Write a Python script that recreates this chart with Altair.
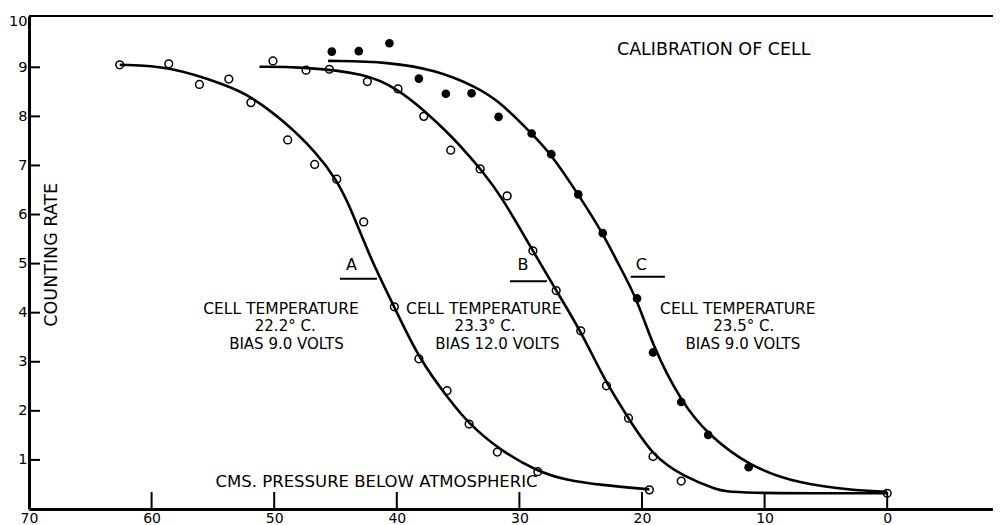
import altair as alt
import pandas as pd

FONT = "DejaVu Sans"

# ---- measured data (x = cms pressure below atmospheric, y = counting rate)
a_pts_x = [62.6, 58.6, 56.1, 53.7, 51.9, 48.9, 46.7, 44.9, 42.7, 40.2, 38.2, 35.9, 34.1, 31.8, 28.5, 19.4]
a_pts_y = [9.05, 9.07, 8.65, 8.76, 8.28, 7.52, 7.02, 6.72, 5.85, 4.12, 3.06, 2.41, 1.73, 1.16, 0.76, 0.39]

b_pts_x = [50.1, 47.4, 45.5, 42.4, 39.9, 37.8, 35.6, 33.2, 31.0, 28.9, 27.0, 25.0, 22.9, 21.1, 19.1, 16.8, 0.0]
b_pts_y = [9.13, 8.94, 8.96, 8.71, 8.56, 8.00, 7.31, 6.93, 6.38, 5.26, 4.45, 3.63, 2.51, 1.85, 1.07, 0.57, 0.32]

c_pts_x = [45.3, 43.1, 40.6, 38.2, 36.0, 33.9, 31.7, 29.0, 27.4, 25.2, 23.2, 20.4, 19.1, 16.8, 14.6, 11.3]
c_pts_y = [9.32, 9.33, 9.49, 8.77, 8.46, 8.47, 7.99, 7.65, 7.23, 6.41, 5.62, 4.29, 3.19, 2.18, 1.51, 0.85]

# ---- fitted curves
a_cur_x = [62.6, 58.6, 53.7, 52.0, 49.3, 46.5, 44.9, 43.8, 42.1, 40.2, 38.2, 35.7, 34.1, 31.6, 28.5, 26.2, 23.4, 19.4]
a_cur_y = [9.05, 9.03, 8.62, 8.42, 7.93, 7.25, 6.70, 6.16, 5.07, 4.12, 3.06, 2.22, 1.73, 1.20, 0.76, 0.59, 0.49, 0.40]

b_cur_x = [51.2, 47.9, 42.5, 39.9, 37.8, 35.5, 33.8, 33.2, 31.6, 28.9, 27.0, 25.0, 22.9, 21.1, 19.1, 16.6, 13.9, 12.6, 0.0]
b_cur_y = [9.01, 9.01, 8.88, 8.55, 8.13, 7.59, 7.11, 6.93, 6.43, 5.26, 4.45, 3.63, 2.55, 1.85, 1.07, 0.66, 0.39, 0.32, 0.32]

c_cur_x = [45.6, 40.6, 36.8, 33.5, 31.6, 29.0, 27.4, 25.2, 23.2, 22.1, 20.4, 19.1, 16.8, 14.6, 11.2, 7.1, 3.0, 0.0]
c_cur_y = [9.13, 9.11, 8.94, 8.60, 8.30, 7.65, 7.23, 6.41, 5.62, 5.07, 4.29, 3.30, 2.18, 1.51, 0.86, 0.51, 0.39, 0.35]

x_label_vals = [70, 60, 50, 40, 30, 20, 10, 0]
x_tick_vals = [60, 50, 40, 30, 20, 10, 0]
y_label_vals = [1, 2, 3, 4, 5, 6, 7, 8, 9, 10]
y_tick_vals = [1, 2, 3, 4, 5, 6, 7, 8, 9]

W, H = 964, 493
x_scale = alt.Scale(domain=[-8.63, 70], reverse=True, nice=False, zero=False)
y_scale = alt.Scale(domain=[0, 10.045], nice=False, zero=False)

# the top label "10" sits a little below the frame line, as in the drawing
y_label_pos = [v if v < 10 else 9.94 for v in y_label_vals]

x_axis = alt.Axis(values=x_label_vals, ticks=False, domainWidth=3, domainColor="black",
                  labelFont=FONT, labelFontSize=14, labelColor="black", labelPadding=2,
                  grid=False, format="d", labelFlush=False, labelOverlap=False, title=None)
y_axis = alt.Axis(values=y_label_pos, ticks=False, domainWidth=3, domainColor="black",
                  labelFont=FONT, labelFontSize=14.5, labelColor="black", labelPadding=2,
                  labelExpr="datum.value > 9.5 ? '10' : format(datum.value, 'd')",
                  grid=False, labelFlush=False, labelOverlap=False, title=None)


def X(field=None, datum=None):
    if datum is not None:
        return alt.X(datum=datum, type="quantitative", scale=x_scale, axis=x_axis, title=None)
    return alt.X(field, type="quantitative", scale=x_scale, axis=x_axis, title=None)


def X2(datum):
    return alt.X2(datum=datum)


def Y(field=None, datum=None):
    if datum is not None:
        return alt.Y(datum=datum, type="quantitative", scale=y_scale, axis=y_axis, title=None)
    return alt.Y(field, type="quantitative", scale=y_scale, axis=y_axis, title=None)


def frame(name, xs, ys):
    return pd.DataFrame({"p": xs, "r": ys, "s": name, "i": list(range(len(xs)))})


curves = pd.concat([frame("A", a_cur_x, a_cur_y), frame("B", b_cur_x, b_cur_y), frame("C", c_cur_x, c_cur_y)])
open_pts = pd.concat([frame("A", a_pts_x, a_pts_y), frame("B", b_pts_x, b_pts_y)])
filled_pts = frame("C", c_pts_x, c_pts_y)

curve_layer = alt.Chart(curves).mark_line(color="black", strokeWidth=2.6, interpolate="basis").encode(
    x=X("p"), y=Y("r"), detail="s:N", order="i:Q",
)

open_layer = alt.Chart(open_pts).mark_point(shape="circle", filled=False, color="black",
                                            size=60, strokeWidth=1.5, opacity=1).encode(
    x=X("p"), y=Y("r"),
)

filled_layer = alt.Chart(filled_pts).mark_circle(color="black", size=75, opacity=1).encode(
    x=X("p"), y=Y("r"),
)

xt = pd.DataFrame({"t": x_tick_vals})
yt = pd.DataFrame({"t": y_tick_vals})
one = pd.DataFrame({"k": [0]})

xtick_layer = alt.Chart(xt).mark_rule(color="black", strokeWidth=2).encode(
    x=X("t"), y=alt.value(H), y2=alt.value(H - 17),
)
ytick_layer = alt.Chart(yt).mark_rule(color="black", strokeWidth=2).encode(
    y=Y("t"), x=alt.value(0), x2=alt.value(11),
)
top_line = alt.Chart(one).mark_rule(color="black", strokeWidth=2).encode(
    x=alt.value(0), x2=alt.value(W), y=alt.value(0),
)


def label(txt, x, y, size=15, angle=0):
    return alt.Chart(one).mark_text(text=txt, font=FONT, fontSize=size, angle=angle, color="black",
                                    align="center", baseline="middle").encode(
        x=X(datum=x), y=Y(datum=y))


def underline(x1, x2, y):
    return alt.Chart(one).mark_rule(color="black", strokeWidth=2).encode(
        x=X(datum=x1), x2=X2(x2), y=Y(datum=y))


L1, L2, L3 = 4.08, 3.72, 3.37

texts = [
    label("CALIBRATION OF CELL", 14.15, 9.35, size=17.5),
    label("CELL TEMPERATURE", 49.45, L1, size=15.5),
    label("22.2° C.", 49.1, L2),
    label("BIAS 9.0 VOLTS", 49.0, L3),
    label("A", 43.7, 4.97, size=16),
    underline(44.64, 41.62, 4.69),
    label("CELL TEMPERATURE", 32.9, L1, size=15.5),
    label("23.3° C.", 32.8, L2),
    label("BIAS 12.0 VOLTS", 31.8, L3),
    label("B", 29.7, 4.97, size=16),
    underline(30.77, 27.76, 4.64),
    label("CELL TEMPERATURE", 12.18, L1, size=15.5),
    label("23.5° C.", 11.7, L2),
    label("BIAS 9.0 VOLTS", 11.77, L3),
    label("C", 20.05, 4.97, size=16),
    underline(20.92, 18.13, 4.73),
    label("CMS. PRESSURE BELOW ATMOSPHERIC", 41.65, 0.55, size=16.5),
    label("COUNTING RATE", 68.13, 5.18, size=17.5, angle=270),
]

chart = alt.layer(
    curve_layer, open_layer, filled_layer, xtick_layer, ytick_layer, top_line, *texts
).properties(
    width=W, height=H,
    padding={"left": 21, "top": 8, "right": 0, "bottom": 16},
    autosize=alt.AutoSizeParams(type="none"),
    background="white",
).configure_view(strokeWidth=0)

chart.save("out.html", embed_options={"renderer": "svg", "actions": False})
